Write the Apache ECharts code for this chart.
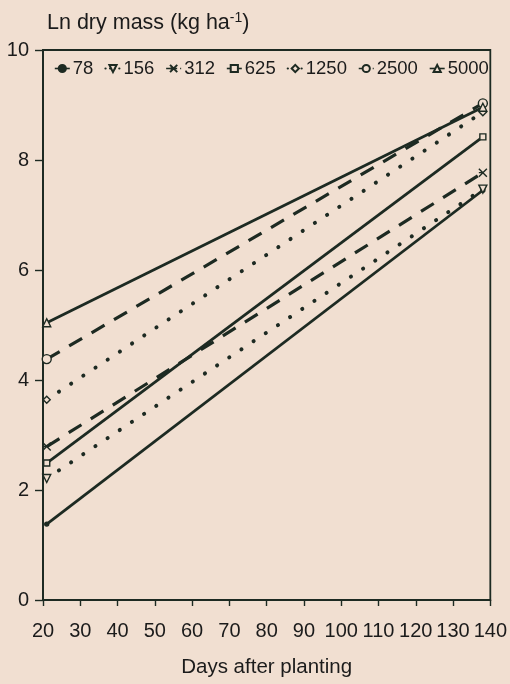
<!DOCTYPE html>
<html>
<head>
<meta charset="utf-8">
<style>
  html, body { margin: 0; padding: 0; background: #f1dfd1; }
  #chart { width: 510px; height: 684px; }
</style>
<script src="https://cdn.jsdelivr.net/npm/echarts@6/dist/echarts.min.js"></script>
</head>
<body>
<div id="chart"></div>
<script>
// Planting densities (plants per ha) used as series names
const densities = ['78', '156', '312', '625', '1250', '2500', '5000'];
// First and last sampling days of each regression line
const days = [21, 138];
// Ln dry mass at the first and last sampling day for each density
const ln78 = [1.38, 7.45];
const ln156 = [2.21, 7.47];
const ln312 = [2.79, 7.77];
const ln625 = [2.49, 8.42];
const ln1250 = [3.64, 8.87];
const ln2500 = [4.38, 9.03];
const ln5000 = [5.04, 8.96];
// Axis ticks
const xTicks = { min: 20, max: 140, step: 10 };
const yTicks = { min: 0, max: 10, step: 2 };

const INK = '#1d2a22';
const BG = '#f1dfd1';
const TEXT = '#1b1b1b';
const FONT = '"Liberation Sans", Arial, sans-serif';

const DOTTED = [0.1, 14.5];
const DASHED = [15, 11];

const styles = {
  '78':   { dash: 'solid', symbol: 'circle', size: 4, filled: true },
  '156':  { dash: DOTTED, symbol: 'triangle', rotate: 180, size: 8 },
  '312':  { dash: DASHED, symbol: 'path://M0,0L8,8M8,0L0,8M0,4L3,4', size: 8 },
  '625':  { dash: 'solid', symbol: 'rect', size: 6 },
  '1250': { dash: DOTTED, symbol: 'diamond', size: 7 },
  '2500': { dash: DASHED, symbol: 'circle', size: 9 },
  '5000': { dash: 'solid', symbol: 'triangle', size: 8 }
};

const values = [ln78, ln156, ln312, ln625, ln1250, ln2500, ln5000];

const series = densities.map((name, i) => {
  const s = styles[name];
  return {
    name: name,
    type: 'line',
    data: days.map((d, j) => [d, values[i][j]]),
    symbol: s.symbol,
    symbolSize: s.size,
    symbolRotate: s.rotate || 0,
    showAllSymbol: true,
    lineStyle: {
      color: INK,
      width: s.dash === 'solid' ? 2.8 : (s.dash === DOTTED ? 4 : 3.2),
      type: s.dash,
      cap: s.dash === DOTTED ? 'round' : 'butt'
    },
    itemStyle: {
      color: s.filled ? INK : BG,
      borderColor: INK,
      borderWidth: 1.4
    },
    emphasis: { disabled: true },
    animation: false,
    z: 3
  };
});

// legend entries get a shorter dash pattern so the icon shows the style
const legendData = densities.map(name => {
  const s = styles[name];
  let t = s.dash;
  if (s.dash === DOTTED) t = [0.1, 4.5];
  if (s.dash === DASHED) t = [4, 3];
  return { name: name, lineStyle: { type: t, width: s.dash === DOTTED ? 2.2 : 1.6, cap: s.dash === DOTTED ? 'round' : 'butt' } };
});

const chart = echarts.init(document.getElementById('chart'), null, { renderer: 'canvas' });
chart.setOption({
  backgroundColor: BG,
  animation: false,
  textStyle: { fontFamily: FONT, color: TEXT },
  title: {
    text: '{a|Ln dry mass (kg ha}{s|-1}{a|)}',
    left: 42,
    top: 5,
    textStyle: {
      fontWeight: 'normal',
      rich: {
        a: { fontFamily: FONT, fontSize: 21.5, fontWeight: 'normal', color: TEXT, lineHeight: 27 },
        s: { fontFamily: FONT, fontSize: 14, fontWeight: 'normal', color: TEXT, padding: [0, 0, 10, 0], lineHeight: 27 }
      }
    }
  },
  legend: {
    data: legendData,
    left: 49,
    top: 54,
    itemWidth: 15,
    itemHeight: 9,
    itemGap: 11,
    textStyle: { fontFamily: FONT, fontSize: 18.5, color: TEXT, padding: [0, 0, 0, -2] },
    selectedMode: false
  },
  grid: {
    left: 43,
    right: 19,
    top: 50,
    bottom: 84,
    show: true,
    borderColor: INK,
    borderWidth: 1.8,
    backgroundColor: 'transparent'
  },
  xAxis: {
    type: 'value',
    min: xTicks.min,
    max: xTicks.max,
    interval: xTicks.step,
    name: 'Days after planting',
    nameLocation: 'middle',
    nameGap: 57,
    nameTextStyle: { fontFamily: FONT, fontSize: 20.5, color: TEXT },
    axisLine: { show: true, lineStyle: { color: INK, width: 1.8 } },
    axisTick: { show: true, length: 6, lineStyle: { color: INK, width: 1.4 } },
    axisLabel: { fontFamily: FONT, fontSize: 20, color: TEXT, margin: 21 },
    splitLine: { show: false }
  },
  yAxis: {
    type: 'value',
    min: yTicks.min,
    max: yTicks.max,
    interval: yTicks.step,
    axisLine: { show: true, lineStyle: { color: INK, width: 1.8 } },
    axisTick: { show: true, length: 8, lineStyle: { color: INK, width: 1.4 } },
    axisLabel: { fontFamily: FONT, fontSize: 20, color: TEXT, margin: 14 },
    splitLine: { show: false }
  },
  series: series
});
</script>
</body>
</html>
